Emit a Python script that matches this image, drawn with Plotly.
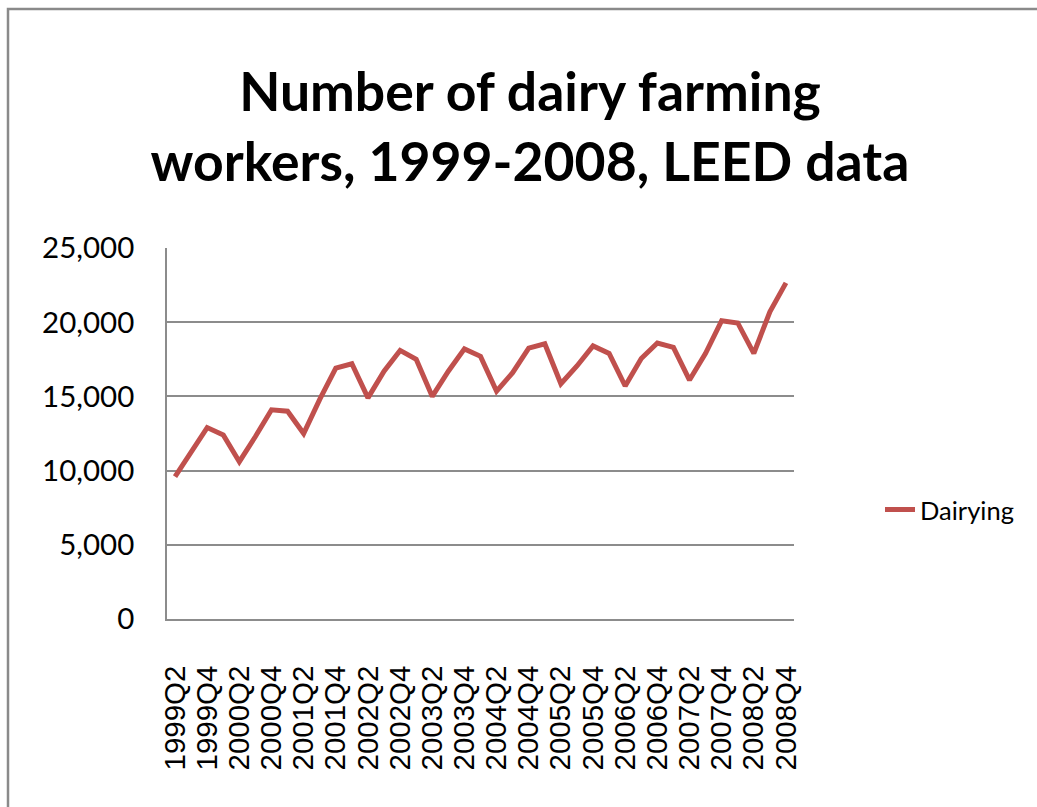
import plotly.graph_objects as go

quarters = [
    "1999Q2", "1999Q3", "1999Q4",
    "2000Q1", "2000Q2", "2000Q3", "2000Q4",
    "2001Q1", "2001Q2", "2001Q3", "2001Q4",
    "2002Q1", "2002Q2", "2002Q3", "2002Q4",
    "2003Q1", "2003Q2", "2003Q3", "2003Q4",
    "2004Q1", "2004Q2", "2004Q3", "2004Q4",
    "2005Q1", "2005Q2", "2005Q3", "2005Q4",
    "2006Q1", "2006Q2", "2006Q3", "2006Q4",
    "2007Q1", "2007Q2", "2007Q3", "2007Q4",
    "2008Q1", "2008Q2", "2008Q3", "2008Q4",
]
dairying = [
    9600, 11300, 12900,
    12400, 10600, 12300, 14100,
    14000, 12500, 14800, 16900,
    17200, 14900, 16700, 18100,
    17500, 15000, 16700, 18200,
    17700, 15350, 16600, 18250,
    18550, 15850, 17050, 18400,
    17900, 15700, 17550, 18600,
    18300, 16100, 17900, 20100,
    19950, 17900, 20700, 22650,
]
tick_labels = quarters[::2]
y_ticks = [0, 5000, 10000, 15000, 20000, 25000]

GRID = "#8c8c8c"
L, R, T, B = 167, 243, 248, 188
W, H = 1037, 807
PW, PH = W - L - R, H - T - B


def px_x(p):
    return (p - L) / PW


def px_y(p):
    return (H - B - p) / PH


fig = go.Figure()
fig.add_trace(go.Scatter(
    x=quarters, y=dairying, mode="lines", name="Dairying",
    line=dict(color="#C0504D", width=5),
))

fig.update_layout(
    width=W, height=H,
    margin=dict(l=L, r=R, t=T, b=B),
    paper_bgcolor="white", plot_bgcolor="white",
    title=dict(
        text="<b>Number of dairy farming<br>workers, 1999-2008, LEED data</b>",
        font=dict(family="Lato", size=53.5, color="black"),
        x=530 / W, xanchor="center",
        y=1 - 111 / H, yanchor="middle",
        xref="container", yref="container",
    ),
    showlegend=True,
    legend=dict(
        x=px_x(880), y=px_y(510), xanchor="left", yanchor="middle",
        font=dict(family="Lato", size=25.5, color="black"),
        bgcolor="rgba(0,0,0,0)",
    ),
    xaxis=dict(
        type="category",
        range=[-0.5, len(quarters) - 0.5],
        tickmode="array", tickvals=tick_labels, ticktext=tick_labels,
        tickangle=-90,
        tickfont=dict(family="Liberation Sans", size=29.5, color="black"),
        ticks="", showgrid=False,
        showline=True, linecolor=GRID, linewidth=1.5,
        ticklabelstandoff=33,
        zeroline=False,
    ),
    yaxis=dict(
        range=[0, 25000],
        tickmode="array", tickvals=y_ticks,
        tickformat=",d",
        tickfont=dict(family="Lato", size=29.5, color="black"),
        ticks="", showgrid=True, gridcolor=GRID, gridwidth=1.5,
        showline=True, linecolor=GRID, linewidth=1.5,
        ticklabelstandoff=25,
        zeroline=False,
    ),
    shapes=[
        dict(type="rect", xref="paper", yref="paper",
             x0=px_x(8), x1=px_x(1045), y0=px_y(815), y1=px_y(9),
             line=dict(color="#8a8a8a", width=2.5), fillcolor="rgba(0,0,0,0)",
             layer="below"),
    ],
)

fig.write_html("out.html")
